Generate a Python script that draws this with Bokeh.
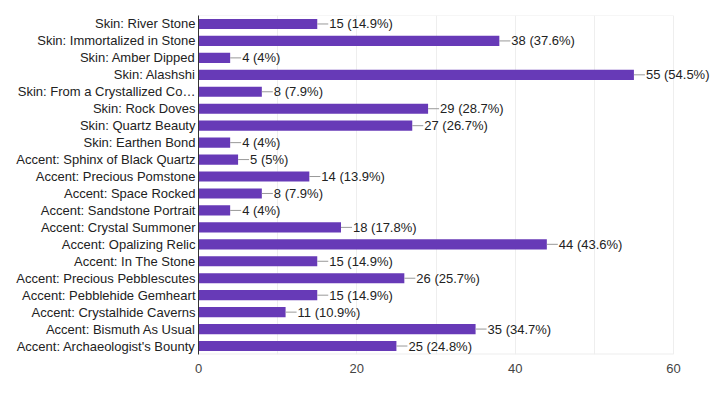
from bokeh.plotting import figure
from bokeh.models import ColumnDataSource, Range1d, FixedTicker, LabelSet
from bokeh.core.properties import value
from bokeh.embed import file_html
from bokeh.resources import INLINE

categories = [
    "Skin: River Stone",
    "Skin: Immortalized in Stone",
    "Skin: Amber Dipped",
    "Skin: Alashshi",
    "Skin: From a Crystallized Co…",
    "Skin: Rock Doves",
    "Skin: Quartz Beauty",
    "Skin: Earthen Bond",
    "Accent: Sphinx of Black Quartz",
    "Accent: Precious Pomstone",
    "Accent: Space Rocked",
    "Accent: Sandstone Portrait",
    "Accent: Crystal Summoner",
    "Accent: Opalizing Relic",
    "Accent: In The Stone",
    "Accent: Precious Pebblescutes",
    "Accent: Pebblehide Gemheart",
    "Accent: Crystalhide Caverns",
    "Accent: Bismuth As Usual",
    "Accent: Archaeologist's Bounty",
]
counts = [15, 38, 4, 55, 8, 29, 27, 4, 5, 14, 8, 4, 18, 44, 15, 26, 15, 11, 35, 25]
percents = ["14.9%", "37.6%", "4%", "54.5%", "7.9%", "28.7%", "26.7%", "4%", "5%", "13.9%",
            "7.9%", "4%", "17.8%", "43.6%", "14.9%", "25.7%", "14.9%", "10.9%", "34.7%", "24.8%"]
x_ticks = [0, 20, 40, 60]
grid_ticks = [0, 10, 20, 30, 40, 50, 60]
x_max = 60

FONT = "Liberation Sans"
px_per_unit = 475 / 60.0
conn = 11 / px_per_unit

left_px = 198
width = 711
view_max = (width - left_px) / px_per_unit  # room for labels beyond axis end

n = len(categories)
ypos = [n - 1 - i for i in range(n)]  # first category at top
y_lo, y_hi = -0.5, n - 0.5

labels = [f"{c} ({p})" for c, p in zip(counts, percents)]
src = ColumnDataSource(dict(
    y=ypos,
    v=counts,
    v_end=[c + conn for c in counts],
    lab=labels,
))

p = figure(
    width=width, height=389,
    y_range=Range1d(y_lo, y_hi),
    x_range=Range1d(0, view_max),
    output_backend="svg", toolbar_location=None,
    min_border_left=left_px, min_border_right=0, min_border_top=15, min_border_bottom=35,
)
p.background_fill_color = "white"
p.border_fill_color = "white"
p.outline_line_color = None

# frame border (top and bottom) limited to axis extent
p.segment(x0=[0, 0], x1=[x_max, x_max], y0=[y_hi, y_lo], y1=[y_hi, y_lo],
          line_color="#eeeeee", line_width=[1, 2])

p.hbar(y="y", right="v", left=0, height=0.6, source=src,
       fill_color="#673ab7", line_color=None)
p.segment(x0="v", x1="v_end", y0="y", y1="y", source=src,
          line_color="#999999", line_width=1)
p.add_layout(LabelSet(x="v_end", y="y", text="lab", source=src,
                      text_font=value(FONT), text_font_size=value("13px"), text_color="#222222",
                      text_baseline="middle", text_align="left", x_offset=1))

p.xaxis.ticker = FixedTicker(ticks=x_ticks)
p.xgrid.ticker = FixedTicker(ticks=grid_ticks)
p.xgrid.grid_line_color = "#eeeeee"
p.ygrid.grid_line_color = None
p.xaxis.axis_line_color = None
p.xaxis.major_tick_line_color = None
p.xaxis.minor_tick_line_color = None
p.xaxis.major_tick_out = 0
p.xaxis.major_label_text_font = FONT
p.xaxis.major_label_text_font_size = "13px"
p.xaxis.major_label_text_color = "#444444"
p.xaxis.major_label_standoff = 9

p.yaxis.ticker = FixedTicker(ticks=ypos)
p.yaxis.major_label_overrides = {y: c for y, c in zip(ypos, categories)}
p.yaxis.axis_line_color = "#333333"
p.yaxis.axis_line_width = 1
p.yaxis.major_tick_line_color = None
p.yaxis.minor_tick_line_color = None
p.yaxis.major_tick_out = 0
p.yaxis.major_label_text_font = FONT
p.yaxis.major_label_text_font_size = "13px"
p.yaxis.major_label_text_color = "#222222"
p.yaxis.major_label_standoff = 3

open("out.html", "w").write(file_html(p, INLINE))
